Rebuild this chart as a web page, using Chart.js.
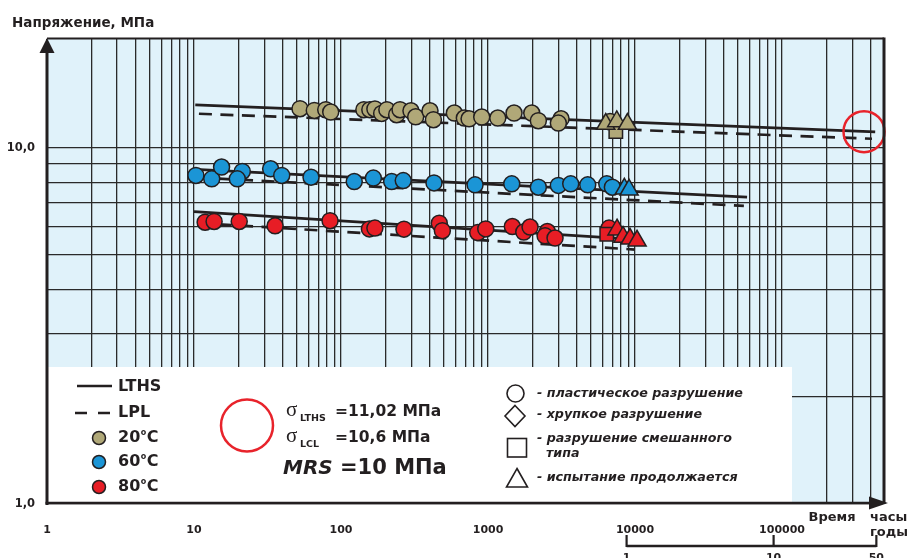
<!DOCTYPE html>
<html><head><meta charset="utf-8">
<script src="https://cdn.jsdelivr.net/npm/chart.js@4"></script>
<style>html,body{margin:0;padding:0;background:#fff}canvas{display:block}</style>
</head><body>
<canvas id="c" width="909" height="558"></canvas>
<script>
// ---------- data (hours, MPa) ----------
const xTickLabels = ['1','10','100','1000','10000','100000'];
const yTickLabels = {1:'1,0', 10:'10,0'};
const yearTicks = [1, 10, 50];
const HOURS_PER_YEAR = 8760;

const ductile20Hours  = [52.6,65.8,78.7,85.1,143,157,170,189,205,239,252,299,322,403,425,590,690,743,906,1165,1503,1983,2199,3138,3008,6760];
const ductile20Stress = [12.87,12.73,12.79,12.60,12.79,12.79,12.85,12.49,12.79,12.38,12.79,12.70,12.22,12.70,11.99,12.52,12.12,12.06,12.20,12.12,12.52,12.52,11.91,12.06,11.73,11.86];
const mixed20Hours = [7400];
const mixed20Stress = [11.11];
const running20Hours = [6320,7510,8870];
const running20Stress = [11.66,11.86,11.66];

const ductile60Hours  = [10.3,13.2,15.4,21.3,19.7,33.2,39.5,62.5,123,166,221,265,429,816,1450,2199,3008,3652,4766,6420,7010];
const ductile60Stress = [8.36,8.18,8.83,8.58,8.18,8.73,8.36,8.27,8.04,8.22,8.04,8.09,7.97,7.87,7.92,7.75,7.84,7.92,7.87,7.92,7.75];
const running60Hours = [8460,9110];
const running60Stress = [7.67,7.62];

const ductile80Hours  = [11.9,13.7,20.3,35.6,84.2,156,170,268,466,489,851,965,1463,1750,1931,2532,2443,2856,6653];
const ductile80Stress = [6.18,6.21,6.21,6.04,6.24,5.92,5.95,5.91,6.14,5.85,5.78,5.92,6.01,5.80,5.99,5.82,5.66,5.58,5.95];
const mixed80Hours = [6420];
const mixed80Stress = [5.72];
const running80Hours = [7545,8285,9245,10320];
const running80Stress = [5.89,5.62,5.55,5.48];

const lths20Hours = [10.2,430000]; const lths20Stress = [13.2,11.08];
const lpl20Hours  = [10.8,409000]; const lpl20Stress  = [12.46,10.6];
const lths60Hours = [10.2,57800];  const lths60Stress = [8.7,7.27];
const lpl60Hours  = [10.5,55000];  const lpl60Stress  = [8.25,6.87];
const lths80Hours = [10,10000];    const lths80Stress = [6.62,5.53];
const lpl80Hours  = [10.5,10000];  const lpl80Stress  = [6.15,5.18];

const mrsHours = [361000]; const mrsStress = [11.1];

// ---------- build ----------
const zip = (h, s) => h.map((v, i) => ({x: v, y: s[i]}));
const INK = '#231f20';
const C20 = '#b0a878', C60 = '#1b95d6', C80 = '#e71d25', RED = '#e8232b';

function lineDs(h, s, dashed) {
  return {data: zip(h, s), showLine: true, pointRadius: 0, borderColor: INK,
    borderWidth: 2.7, borderDash: dashed ? [13, 8.5] : [], order: 10, fill: false};
}
function ptDs(h, s, color, style, r) {
  return {data: zip(h, s), showLine: false, pointStyle: style, pointRadius: r,
    backgroundColor: color, borderColor: INK, borderWidth: 1.5, order: style === 'triangle' ? 1 : 2};
}

const datasets = [
  lineDs(lths20Hours, lths20Stress, false), lineDs(lpl20Hours, lpl20Stress, true),
  lineDs(lths60Hours, lths60Stress, false), lineDs(lpl60Hours, lpl60Stress, true),
  lineDs(lths80Hours, lths80Stress, false), lineDs(lpl80Hours, lpl80Stress, true),
  ptDs(mixed20Hours, mixed20Stress, C20, 'rect', 9.5),
  ptDs(ductile20Hours, ductile20Stress, C20, 'circle', 8),
  ptDs(running20Hours, running20Stress, C20, 'triangle', 10.5),
  ptDs(ductile60Hours, ductile60Stress, C60, 'circle', 8),
  ptDs(running60Hours, running60Stress, C60, 'triangle', 10.5),
  ptDs(mixed80Hours, mixed80Stress, C80, 'rect', 9.5),
  ptDs(ductile80Hours, ductile80Stress, C80, 'circle', 8),
  ptDs(running80Hours, running80Stress, C80, 'triangle', 10.5),
  {data: zip(mrsHours, mrsStress), showLine: false, pointStyle: 'circle', pointRadius: 20.5,
   backgroundColor: 'rgba(0,0,0,0)', borderColor: RED, borderWidth: 2.5, clip: false, order: 0}
];

const F = '"DejaVu Sans", Verdana, sans-serif';

const deco = {
  id: 'deco',
  beforeDraw(chart) {
    const {ctx, chartArea: a} = chart;
    ctx.save();
    ctx.fillStyle = '#e0f2fa';
    ctx.fillRect(a.left, a.top, a.right - a.left, a.bottom - a.top);
    ctx.restore();
  },
  beforeDatasetsDraw(chart) {
    const {ctx, chartArea: a} = chart;
    ctx.save();
    ctx.fillStyle = '#ffffff';
    ctx.fillRect(a.left, 367, 792 - a.left, a.bottom - 367);
    ctx.restore();
  },
  afterDraw(chart) {
    const {ctx, chartArea: a} = chart;
    const xs = chart.scales.x;
    ctx.save();
    ctx.strokeStyle = INK; ctx.fillStyle = INK;
    const line = (x1, y1, x2, y2, w) => { ctx.lineWidth = w; ctx.beginPath(); ctx.moveTo(x1, y1); ctx.lineTo(x2, y2); ctx.stroke(); };
    // frame
    line(a.left, a.top - 0.5, a.right + 1, a.top - 0.5, 2.2);
    line(a.right + 1, a.top - 1.5, a.right + 1, a.bottom, 3);
    line(a.left, a.top + 10, a.left, a.bottom + 1, 3);
    line(a.left - 1.5, a.bottom - 1, a.right - 10, a.bottom - 1, 2.4);
    // arrows
    ctx.beginPath(); ctx.moveTo(a.left, a.top - 1); ctx.lineTo(a.left - 7.5, a.top + 14); ctx.lineTo(a.left + 7.5, a.top + 14); ctx.closePath(); ctx.fill();
    ctx.beginPath(); ctx.moveTo(a.right + 5, a.bottom - 1); ctx.lineTo(a.right - 14, a.bottom - 7.5); ctx.lineTo(a.right - 14, a.bottom + 5.5); ctx.closePath(); ctx.fill();

    // axis titles
    ctx.textBaseline = 'alphabetic'; ctx.textAlign = 'left';
    ctx.font = 'bold 13.5px ' + F;
    ctx.fillText('Напряжение, МПа', 12, 27);
    ctx.font = 'bold 13px ' + F;
    ctx.textAlign = 'center';
    ctx.fillText('Время', 832, 521);
    ctx.textAlign = 'left';
    ctx.fillText('часы', 870, 521);
    ctx.fillText('годы', 870, 536);

    // years axis
    const yx = yearTicks.map(v => xs.getPixelForValue(v * HOURS_PER_YEAR));
    line(yx[0], 546, yx[yx.length - 1], 546, 2.4);
    ctx.font = 'bold 11px ' + F; ctx.textAlign = 'center'; ctx.textBaseline = 'top';
    yearTicks.forEach((v, i) => { line(yx[i], 535, yx[i], 547, 2.2); ctx.fillText(String(v), yx[i], 553); });

    // ----- legend (left) -----
    ctx.textBaseline = 'middle'; ctx.textAlign = 'left';
    line(77, 386, 112, 386, 2.7);
    ctx.setLineDash([12, 11]); line(75, 413, 110, 413, 2.7); ctx.setLineDash([]);
    ctx.font = 'bold 16px ' + F;
    ctx.fillText('LTHS', 118, 387);
    ctx.fillText('LPL', 118, 413);
    const temps = [['20', C20, 438], ['60', C60, 462], ['80', C80, 487]];
    temps.forEach(([t, col, y]) => {
      ctx.beginPath(); ctx.arc(99, y, 6.5, 0, Math.PI * 2); ctx.fillStyle = col; ctx.fill();
      ctx.lineWidth = 1.5; ctx.strokeStyle = INK; ctx.stroke();
      ctx.fillStyle = INK;
      ctx.font = 'bold 16px ' + F;
      ctx.fillText(t, 118, y);
      let w = ctx.measureText(t).width;
      ctx.font = 'bold 8px ' + F;
      ctx.fillText('o', 118 + w + 0.5, y - 5);
      const w2 = ctx.measureText('o').width;
      ctx.font = 'bold 16px ' + F;
      ctx.fillText('C', 118 + w + w2 + 1, y);
    });

    // red circle in legend
    ctx.beginPath(); ctx.arc(247, 425.5, 26, 0, Math.PI * 2);
    ctx.strokeStyle = RED; ctx.lineWidth = 2.5; ctx.stroke();
    ctx.strokeStyle = INK;

    // sigma lines
    const sigma = (y, sub, val) => {
      ctx.font = '21px "Liberation Serif", serif';
      ctx.textBaseline = 'alphabetic';
      ctx.fillText('σ', 286, y + 5);
      ctx.font = 'bold 9.5px ' + F;
      ctx.fillText(sub, 300, y + 10);
      ctx.font = 'bold 15.5px ' + F;
      ctx.fillText(val, 335, y + 5);
    };
    sigma(411, 'LTHS', '=11,02 МПа');
    sigma(437, 'LCL', '=10,6 МПа');
    ctx.textBaseline = 'alphabetic';
    ctx.font = 'italic bold 20px ' + F;
    ctx.fillText('MRS', 283, 474);
    ctx.font = 'bold 21px ' + F;
    ctx.fillText('=10 МПа', 340, 474);

    // ----- legend (right) -----
    ctx.lineWidth = 1.6; ctx.strokeStyle = INK;
    ctx.beginPath(); ctx.arc(515.5, 393.5, 8.5, 0, Math.PI * 2); ctx.stroke();
    ctx.beginPath(); ctx.moveTo(515, 405.5); ctx.lineTo(525, 416); ctx.lineTo(515, 426.5); ctx.lineTo(505, 416); ctx.closePath(); ctx.stroke();
    ctx.strokeRect(507.5, 438.5, 19, 18.5);
    ctx.beginPath(); ctx.moveTo(517, 468.5); ctx.lineTo(527.5, 487); ctx.lineTo(506.5, 487); ctx.closePath(); ctx.stroke();
    ctx.font = 'italic bold 12.7px ' + F; ctx.textBaseline = 'middle';
    ctx.fillText('- пластическое разрушение', 537, 394);
    ctx.fillText('- хрупкое разрушение', 537, 415);
    ctx.fillText('- разрушение смешанного', 537, 439);
    ctx.fillText('типа', 546, 454);
    ctx.fillText('- испытание продолжается', 537, 478);
    ctx.restore();
  }
};

function decadeTicks(min, max) {
  const t = [];
  for (let e = 0; e <= 6; e++) for (let m = 1; m <= 9; m++) {
    const v = m * Math.pow(10, e);
    if (v >= min && v <= max) t.push({value: v});
  }
  return t;
}

new Chart(document.getElementById('c'), {
  type: 'scatter',
  data: {datasets},
  plugins: [deco],
  options: {
    responsive: false, animation: false, events: [], devicePixelRatio: 1,
    layout: {padding: {top: 39, right: 26, left: 0, bottom: 0}},
    plugins: {legend: {display: false}, tooltip: {enabled: false}},
    scales: {
      x: {
        type: 'logarithmic', min: 1, max: 486000,
        afterBuildTicks: s => { s.ticks = decadeTicks(1, 486000); },
        afterFit: s => { s.height = 54; },
        grid: {color: '#2a2a2a', lineWidth: 1.3, drawTicks: false},
        border: {display: false},
        ticks: {
          autoSkip: false, maxRotation: 0, minRotation: 0, padding: 20, color: INK,
          font: {family: 'DejaVu Sans', weight: 'bold', size: 11},
          callback: v => { const l = Math.log10(v); const r = Math.round(l); return Math.abs(l - r) < 1e-9 ? xTickLabels[r] : ''; }
        }
      },
      y: {
        type: 'logarithmic', min: 1, max: 20.2,
        afterBuildTicks: s => { s.ticks = decadeTicks(1, 10); },
        afterFit: s => { s.width = 47; },
        grid: {color: '#2a2a2a', lineWidth: 1.3, drawTicks: false},
        border: {display: false},
        ticks: {
          autoSkip: false, padding: 12, color: INK,
          font: {family: 'DejaVu Sans', weight: 'bold', size: 11.5},
          callback: v => yTickLabels[v] || ''
        }
      }
    }
  }
});
</script>
</body></html>
